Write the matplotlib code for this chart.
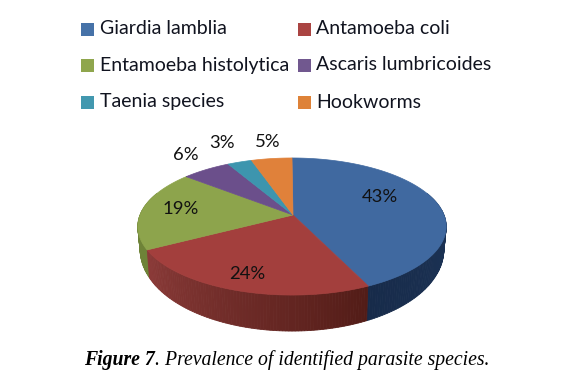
import numpy as np
import matplotlib
matplotlib.use("Agg")
import matplotlib.pyplot as plt
from matplotlib.patches import Polygon, Rectangle

species = ["Giardia lamblia", "Antamoeba coli", "Entamoeba histolytica",
           "Ascaris lumbricoides", "Taenia species", "Hookworms"]
prevalence = [43, 24, 19, 6, 3, 5]
labels = ["43%", "24%", "19%", "6%", "3%", "5%"]
top_colors = ["#4069A0", "#A33F3D", "#8DA44C", "#6B4F8B", "#3D95AE", "#E0813A"]
legend_colors = ["#4672A8", "#AA4442", "#8FA64D", "#71588F", "#4298AF", "#DE8238"]
side_light = ["#24416A", "#8C3B39", "#6E8338", "#50386A", "#2A6C80", "#A85E28"]
side_dark = ["#172B4A", "#521C17", "#6E8338", "#50386A", "#2A6C80", "#A85E28"]
label_xy = [(380, 197), (247, 274), (181, 209), (186, 155), (222, 143), (268, 142)]

W, H = 575, 378
CX, CY, A, B, K = 292, 215, 152, 66.6, 0.168

fig = plt.figure(figsize=(W / 100, H / 100), dpi=100, facecolor="white")
ax = fig.add_axes([0, 0, 1, 1])
ax.set_xlim(0, W)
ax.set_ylim(H, 0)
ax.axis("off")


def project(theta, r=1.0, drop=False):
    u, v = r * np.sin(theta), r * np.cos(theta)
    d = 1 + K * v
    x, y = CX + A * u / d, CY - B * v / d
    if drop:
        y = y + (20 - 16 * v)
        x = CX + (x - CX) * 0.985
    return x, y


edges = np.cumsum([0] + prevalence) / sum(prevalence) * 2 * np.pi

# rim of the disc, drawn from both ends toward the front
rim = np.linspace(np.radians(70), np.radians(290), 221)
quads = []
for t0, t1 in zip(rim[:-1], rim[1:]):
    mid = (t0 + t1) / 2
    i = int(np.searchsorted(edges, mid, side="right") - 1)
    f = (mid - edges[i]) / (edges[i + 1] - edges[i])
    # the blue face lightens toward the right, the red face toward the left
    if i == 0:
        f = 1 - f
    c0 = np.array(matplotlib.colors.to_rgb(side_dark[i]))
    c1 = np.array(matplotlib.colors.to_rgb(side_light[i]))
    col = c0 + (c1 - c0) * f
    xa, ya = project(np.array([t0, t1]))
    xb, yb = project(np.array([t1, t0]), drop=True)
    quads.append((abs(mid - np.pi), np.c_[np.r_[xa, xb], np.r_[ya, yb]], col))
for _, pts, col in sorted(quads, key=lambda q: -q[0]):
    ax.add_patch(Polygon(pts, closed=True, fc=col, ec=col, lw=0.6))

# top face
for i in range(len(prevalence)):
    th = np.linspace(edges[i], edges[i + 1], 120)
    x, y = project(th)
    ax.add_patch(Polygon(np.c_[np.r_[CX + 1, x], np.r_[CY, y]], closed=True,
                         fc=top_colors[i], ec=top_colors[i], lw=0.5))

for text, (x, y) in zip(labels, label_xy):
    ax.text(x, y, text, ha="center", va="center", fontsize=13.3,
            family="Lato", color="#111111")

# legend
rows = [29, 65, 102]
cols = [(81, 100), (298, 316)]
for i, name in enumerate(species):
    sx, tx = cols[i % 2]
    yy = rows[i // 2]
    ax.add_patch(Rectangle((sx, yy - 6.5), 13, 13, fc=legend_colors[i], ec="none"))
    ax.text(tx, yy, name, ha="left", va="center", fontsize=14,
            family="Lato", color="#10131f")

# caption
t1 = ax.text(84, 360, "Figure 7", ha="left", va="center", fontsize=14.2,
             family="Liberation Serif", style="italic", weight="bold", color="black")
fig.canvas.draw()
ext = t1.get_window_extent()
ax.text(ext.x1, 360, ". Prevalence of identified parasite species.", ha="left",
        va="center", fontsize=14.2, family="Liberation Serif", style="italic", color="black")

fig.savefig("out.png", dpi=100, facecolor="white")
